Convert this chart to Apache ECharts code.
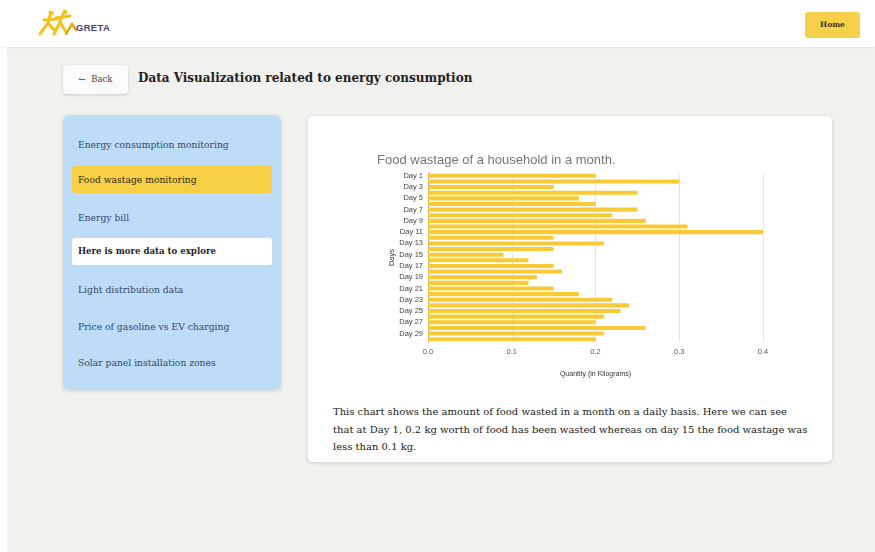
<!DOCTYPE html>
<html>
<head>
<meta charset="utf-8">
<title>GRETA – Data Visualization related to energy consumption</title>
<script src="https://cdn.jsdelivr.net/npm/echarts@6/dist/echarts.min.js"></script>
<style>
  html, body { margin: 0; padding: 0; width: 875px; height: 552px; overflow: hidden; background: #ffffff; }
  body { position: relative; font-family: "DejaVu Serif", serif; }
  .header { position: absolute; left: 0; top: 0; width: 875px; height: 47px; background: #ffffff; box-shadow: 0 1px 2px rgba(0,0,0,0.06); z-index: 2; }
  .logo { position: absolute; left: 36px; top: 9px; }
  .logo-text { position: absolute; left: 76px; top: 22px; font-family: "Liberation Sans", sans-serif; font-weight: bold; font-size: 9.5px; color: #4b3f86; letter-spacing: 0.3px; }
  .home { position: absolute; left: 805px; top: 12px; width: 55px; height: 26px; background: #f6d04a; border-radius: 3px; font-size: 7.5px; font-weight: bold; color: #3b3520; text-align: center; line-height: 26px; }
  .page { position: absolute; left: 7px; top: 47px; right: 0; bottom: 0; background: #f1f1ed; }
  .back { position: absolute; left: 63px; top: 65px; width: 65px; height: 29px; background: #fbfbfa; border-radius: 4px; box-shadow: 0 1px 3px rgba(0,0,0,0.18); font-size: 8.5px; color: #444; line-height: 29px; text-align: center; }
  .page-title { position: absolute; left: 138px; top: 71px; font-size: 12px; font-weight: bold; color: #222; white-space: nowrap; }
  .sidebar { position: absolute; left: 63px; top: 115px; width: 218px; height: 275px; background: #bcdcf8; border-radius: 6px; box-shadow: 0 1px 4px rgba(0,0,0,0.15); }
  .item { position: absolute; left: 9px; width: 200px; height: 27px; line-height: 27px; font-size: 9.2px; color: #34476a; padding-left: 6px; box-sizing: border-box; border-radius: 3px; white-space: nowrap; }
  .item.active { background: #f6cf45; color: #2e2a18; }
  .item.more { background: #ffffff; color: #1e1e1e; font-weight: bold; font-size: 8.6px; }
  .card { position: absolute; left: 308px; top: 116px; width: 524px; height: 346px; background: #ffffff; border-radius: 5px; box-shadow: 0 1px 4px rgba(0,0,0,0.16); }
  #chart { position: absolute; left: 320px; top: 130px; width: 480px; height: 262px; }
  .note { position: absolute; left: 333px; top: 403px; width: 480px; font-size: 10px; line-height: 17.5px; color: #222; white-space: nowrap; }
</style>
</head>
<body>
<div class="page"></div>
<div class="header">
  <svg class="logo" width="42" height="27" viewBox="0 0 42 27">
    <g stroke="#f4c21c" stroke-width="3" stroke-linecap="round" fill="none">
      <path d="M4 25 L12 14 L18 21"/>
      <path d="M12 14 L14 7"/>
      <path d="M8 11 L20 10"/>
      <path d="M18 25 L24 13 L30 23"/>
      <path d="M24 13 L27 5"/>
      <path d="M20 9 L34 7"/>
    </g>
    <g fill="#f4c21c"><circle cx="15" cy="4" r="2.5"/><circle cx="29" cy="3" r="2.5"/></g>
    <path d="M30 25 L36 15 L40 21" stroke="#e8a317" stroke-width="2.5" stroke-linecap="round" fill="none"/>
  </svg>
  <div class="logo-text">GRETA</div>
  <div class="home">Home</div>
</div>

<div class="back">&larr;&nbsp; Back</div>
<div class="page-title">Data Visualization related to energy consumption</div>

<div class="sidebar">
  <div class="item" style="top:16px">Energy consumption monitoring</div>
  <div class="item active" style="top:51px">Food wastage monitoring</div>
  <div class="item" style="top:89px">Energy bill</div>
  <div class="item more" style="top:123px">Here is more data to explore</div>
  <div class="item" style="top:161px">Light distribution data</div>
  <div class="item" style="top:198px">Price of gasoline vs EV charging</div>
  <div class="item" style="top:234px">Solar panel installation zones</div>
</div>

<div class="card"></div>
<div id="chart"></div>
<div class="note">This chart shows the amount of food wasted in a month on a daily basis. Here we can see<br>that at Day 1, 0.2 kg worth of food has been wasted whereas on day 15 the food wastage was<br>less than 0.1 kg.</div>

<script>
// Daily food wastage (kg) for one month
const days = [
  "Day 1", "Day 2", "Day 3", "Day 4", "Day 5", "Day 6", "Day 7", "Day 8", "Day 9", "Day 10",
  "Day 11", "Day 12", "Day 13", "Day 14", "Day 15", "Day 16", "Day 17", "Day 18", "Day 19", "Day 20",
  "Day 21", "Day 22", "Day 23", "Day 24", "Day 25", "Day 26", "Day 27", "Day 28", "Day 29", "Day 30"
];
const wastageKg = [
  0.20, 0.30, 0.15, 0.25, 0.18, 0.20, 0.25, 0.22, 0.26, 0.31,
  0.40, 0.15, 0.21, 0.15, 0.09, 0.12, 0.15, 0.16, 0.13, 0.12,
  0.15, 0.18, 0.22, 0.24, 0.23, 0.21, 0.20, 0.26, 0.21, 0.20
];
const quantityTicks = { min: 0, max: 0.4, interval: 0.1 };

const chart = echarts.init(document.getElementById('chart'), null, { renderer: 'canvas' });
chart.setOption({
  animation: false,
  title: {
    text: 'Food wastage of a household in a month.',
    left: 52,
    top: 19,
    textStyle: { fontFamily: 'Liberation Sans', fontSize: 13, fontWeight: 'normal', color: '#757575' }
  },
  grid: { left: 108, top: 43, width: 335, height: 169 },
  xAxis: {
    type: 'value',
    min: quantityTicks.min,
    max: quantityTicks.max,
    interval: quantityTicks.interval,
    name: 'Quantity (in Kilograms)',
    nameLocation: 'middle',
    nameGap: 29,
    nameMoveOverlap: false,
    nameTextStyle: { fontFamily: 'Liberation Sans', fontSize: 7, color: '#333' },
    axisLine: { show: false },
    axisTick: { show: false },
    axisLabel: {
      fontFamily: 'Liberation Sans', fontSize: 7.5, color: '#555', margin: 6,
      formatter: v => v.toFixed(1)
    },
    splitLine: { show: true, lineStyle: { color: '#e4e4e4', width: 1 } }
  },
  yAxis: {
    type: 'category',
    data: days,
    inverse: true,
    name: 'Days',
    nameLocation: 'middle',
    nameGap: 32,
    nameRotate: 90,
    nameMoveOverlap: false,
    nameTextStyle: { fontFamily: 'Liberation Sans', fontSize: 7.5, color: '#333' },
    axisLine: { show: true, lineStyle: { color: '#9a9a9a', width: 1 } },
    axisTick: { show: false },
    axisLabel: { interval: 1, fontFamily: 'Liberation Sans', fontSize: 7.5, color: '#444', margin: 5 },
    splitLine: { show: false }
  },
  series: [{
    type: 'bar',
    data: wastageKg,
    barCategoryGap: '28%',
    itemStyle: { color: '#f8ca35' }
  }]
});
</script>
</body>
</html>
